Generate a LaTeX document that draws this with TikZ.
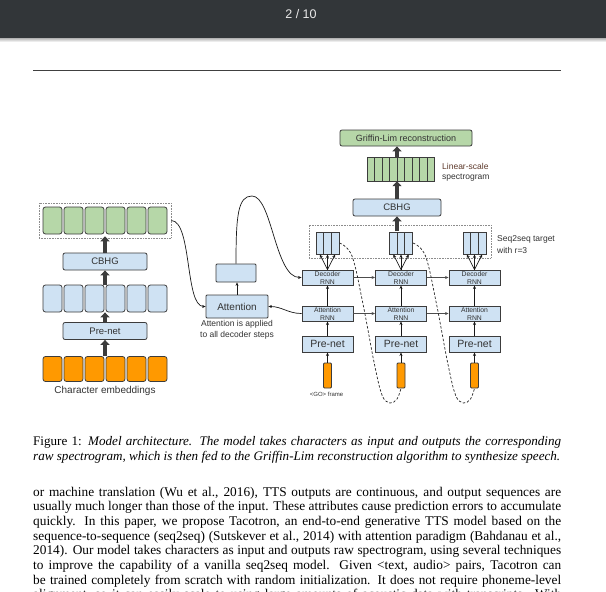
\documentclass[tikz,border=0pt]{standalone}
\usepackage{fontspec}
\setmainfont{Liberation Serif}
\newfontfamily\arialf{Liberation Sans}
\usetikzlibrary{arrows.meta}
\definecolor{barc}{HTML}{323639}
\definecolor{lblue}{HTML}{CFE2F3}
\definecolor{lgreen}{HTML}{B6D7A8}
\definecolor{orng}{HTML}{FF9900}
\definecolor{edgec}{HTML}{3C3C3C}
\definecolor{txtc}{HTML}{333333}
\definecolor{brownc}{HTML}{5E3A2C}
\newcommand{\fsz}[1]{\fontsize{#1}{#1}\selectfont}
\begin{document}
\begin{tikzpicture}[x=1pt,y=-1pt,
 cellbox/.style={draw=edgec, line width=0.8pt, rounded corners=2.5pt, minimum width=19pt, minimum height=27pt, inner sep=0pt},
 gcell/.style={cellbox, fill=lgreen},
 bcell/.style={cellbox, fill=lblue},
 ocell/.style={cellbox, fill=orng, minimum height=25pt},
 lbox/.style={draw=edgec, line width=0.8pt, fill=lblue, rounded corners=2pt, inner sep=0pt, text=txtc},
 dbox/.style={draw=edgec, line width=0.9pt, fill=lblue, minimum width=51pt, minimum height=15pt, inner sep=0pt, text=txtc},
 smalltxt/.style={font=\arialf\fsz{6.8}, text=txtc, inner sep=0pt},
 dotbox/.style={draw=black!45, line width=0.6pt, dash pattern=on 0.7pt off 0.9pt, inner sep=0pt},
 thk/.style={draw=edgec, line width=3.3pt, -{Triangle[length=5pt,width=9pt]}},
 tarr/.style={draw=black!90, line width=0.7pt, -{Stealth[length=3.5pt,width=3pt]}},
 harr/.style={draw=black!70, line width=0.8pt, -{Stealth[length=3.5pt,width=3pt]}},
 dsh/.style={draw=black!85, line width=0.7pt, dash pattern=on 2.5pt off 1.8pt},
 tcell/.style={draw=edgec, line width=0.8pt, fill=lblue, minimum width=7.7pt, minimum height=22pt, inner sep=0pt},
 scell/.style={draw=edgec, line width=0.8pt, fill=lgreen, minimum width=7.5pt, minimum height=24pt, inner sep=0pt},
 obar/.style={draw=edgec, line width=0.8pt, fill=orng, rounded corners=1pt, minimum width=8pt, minimum height=25pt, inner sep=0pt},
 lbl/.style={font=\arialf\fsz{8.5}, text=txtc, inner sep=0pt, anchor=west},
 bodyl/.style={anchor=base west, inner sep=0pt, font=\fsz{13.33}},
 capl/.style={anchor=base west, inner sep=0pt, font=\fsz{13.1}}
]
\useasboundingbox (0,0) rectangle (606,592);
\begin{scope}
\clip (0,0) rectangle (606,592);
\fill[white] (0,0) rectangle (606,592);
% viewer bar
\fill[barc] (0,0) rectangle (606,38);
\shade[top color=black!30, bottom color=white] (0,38) rectangle (606,42);
\node[font=\arialf\fsz{12.5}, text=white!92!black, inner sep=0pt] (pg) at (301,14) {2 / 10};
\draw[line width=0.9pt, black!75] (33,70) -- (561,70);

% ---------- encoder (left)
\node[dotbox, minimum width=132pt, minimum height=35pt] (genc) at (105,220.5) {};
\foreach \i in {1,...,6} {
  \node[gcell] (g\i) at ({31.5+21*\i},220.5) {};
  \node[bcell] (b\i) at ({31.5+21*\i},298.5) {};
  \node[ocell] (o\i) at ({31.5+21*\i},369) {};
}
\node[lbox, minimum width=84pt, minimum height=17pt, font=\arialf\fsz{9.5}] (cbhgL) at (105,261.5) {CBHG};
\node[lbox, minimum width=84pt, minimum height=17pt, font=\arialf\fsz{9.5}] (pnL) at (105,331) {Pre-net};
\node[font=\arialf\fsz{10}, text=txtc, inner sep=0pt] (charemb) at (105,391) {Character embeddings};
\draw[thk] (pnL.south |- o1.north) -- (pnL.south);
\draw[thk] (pnL.north) -- (pnL.north |- b1.south);
\draw[thk] (pnL.north |- b1.north) -- (cbhgL.south);
\draw[thk, shorten >=-2pt] (cbhgL.north) -- (genc.south);

% ---------- attention (middle)
\node[lbox, rounded corners=1pt, minimum width=62pt, minimum height=23pt, font=\arialf\fsz{10}] (att) at (237,306.5) {Attention};
\node[lbox, rounded corners=1pt, minimum width=40pt, minimum height=18pt] (sb) at (236,273) {};
\node[font=\arialf\fontsize{8.5}{11}\selectfont, text=txtc, align=center, inner sep=0pt] (attnote) at (237,329.5) {Attention is applied\\to all decoder steps};
\draw[tarr] (att.north) -- (att.north |- sb.south);

% ---------- decoder (right)
\node[dotbox, minimum width=182pt, minimum height=33pt] (tgt) at (400,241.5) {};
\foreach \c in {1,2,3} {
  \pgfmathsetmacro{\cx}{254+73.5*\c}
  \node[dbox] (dec\c) at (\cx,277.5) {};
  \node[smalltxt] (dect\c) at (\cx,273.6) {Decoder};
  \node[smalltxt] (decr\c) at (\cx,282.4) {RNN};
  \node[dbox] (arn\c) at (\cx,313.5) {};
  \node[smalltxt] (arnt\c) at (\cx,309.6) {Attention};
  \node[smalltxt] (arnr\c) at (\cx,318.4) {RNN};
  \node[dbox, minimum height=16pt, font=\arialf\fsz{10.5}] (pre\c) at (\cx,344) {Pre-net};
  \node[obar] (ob\c) at (\cx,375.5) {};
  \foreach \k in {1,2,3} { \node[tcell] (t\c\k) at ({\cx+7.7*(\k-2)},243) {}; }
  \foreach \k in {1,2,3} { \draw[tarr] (dec\c.north) -- (t\c\k.south); }
  \draw[tarr] (ob\c.north) -- (pre\c.south);
  \draw[tarr] (pre\c.north) -- (arn\c.south);
  \draw[tarr] (arn\c.north) -- (dec\c.south);
}
\draw[harr] (dec1.east) -- (dec2.west);
\draw[harr] (dec2.east) -- (dec3.west);
\draw[harr] (arn1.east) -- (arn2.west);
\draw[harr] (arn2.east) -- (arn3.west);
\node[font=\arialf\fsz{6}, text=txtc, inner sep=0pt] (go) at (326.5,394.5) {\textless GO\textgreater{} frame};

% dashed feedback curves
\draw[dsh] plot[smooth, tension=0.6] coordinates {(t13.east) (352,256) (363,304) (374,362) (382,395) (390,403) (397,399) (ob2.south)};
\draw[dsh] plot[smooth, tension=0.6] coordinates {(t23.east) (425.5,256) (436.5,304) (447.5,362) (455.5,395) (463.5,403) (470.5,399) (ob3.south)};

% post-processing (top right)
\node[lbox, minimum width=88pt, minimum height=17pt, font=\arialf\fsz{9.5}] (cbhgR) at (397,207.5) {CBHG};
\node[minimum width=67.5pt, minimum height=24pt, inner sep=0pt] (spec) at (400.75,169) {};
\foreach \i in {1,...,9} { \node[scell] (sp\i) at ({363.25+7.5*\i},169) {}; }
\node[lbox, fill=lgreen, minimum width=132pt, minimum height=16pt, font=\arialf\fsz{9}] (gl) at (406,138) {Griffin-Lim reconstruction};
\node[lbl, text=brownc] (ls1) at (442,166) {Linear-scale};
\node[lbl] (ls2) at (442,177.5) {spectrogram};
\node[lbl] (s2s1) at (497,239) {Seq2seq target};
\node[lbl] (s2s2) at (497,250) {with r=3};
\draw[thk] (cbhgR.south |- 0,231) -- (cbhgR.south);
\draw[thk] (cbhgR.north) -- (cbhgR.north |- spec.south);
\draw[thk] (cbhgR.north |- spec.north) -- (cbhgR.north |- gl.south);

% curved connectors
\draw[tarr] (genc.east) .. controls (192,221) and (185,306.5) .. (att.west);
\draw[tarr] (sb.north) .. controls (236,215) and (238,196) .. (252,196) .. controls (272,196) and (275,277.5) .. (dec1.west);
\draw[tarr] (arn1.west) .. controls (288,313.5) and (282,306.5) .. (att.east);

% ---------- caption and body text
\node[capl] (cap1) at (33,445.5) {\makebox[528pt][s]{Figure 1: \textit{Model architecture. The model takes characters as input and outputs the corresponding}}};
\node[capl] (cap2) at (33,460.2) {\textit{raw spectrogram, which is then fed to the Griffin-Lim reconstruction algorithm to synthesize speech.}};
\node[bodyl] (l1) at (33,496) {\makebox[528pt][s]{or machine translation (Wu et al., 2016), TTS outputs are continuous, and output sequences are}};
\node[bodyl] (l2) at (33,510.7) {\makebox[528pt][s]{usually much longer than those of the input. These attributes cause prediction errors to accumulate}};
\node[bodyl] (l3) at (33,525.3) {\makebox[528pt][s]{quickly.  In this paper, we propose Tacotron, an end-to-end generative TTS model based on the}};
\node[bodyl] (l4) at (33,540) {\makebox[528pt][s]{sequence-to-sequence (seq2seq) (Sutskever et al., 2014) with attention paradigm (Bahdanau et al.,}};
\node[bodyl] (l5) at (33,554.7) {\makebox[528pt][s]{2014). Our model takes characters as input and outputs raw spectrogram, using several techniques}};
\node[bodyl] (l6) at (33,569.3) {\makebox[528pt][s]{to improve the capability of a vanilla seq2seq model.  Given \textless{}text, audio\textgreater{} pairs, Tacotron can}};
\node[bodyl] (l7) at (33,584) {\makebox[528pt][s]{be trained completely from scratch with random initialization. It does not require phoneme-level}};
\node[bodyl] (l8) at (33,598.7) {\makebox[528pt][s]{alignment, so it can easily scale to using large amounts of acoustic data with transcripts. With}};
\end{scope}
\end{tikzpicture}
\end{document}
